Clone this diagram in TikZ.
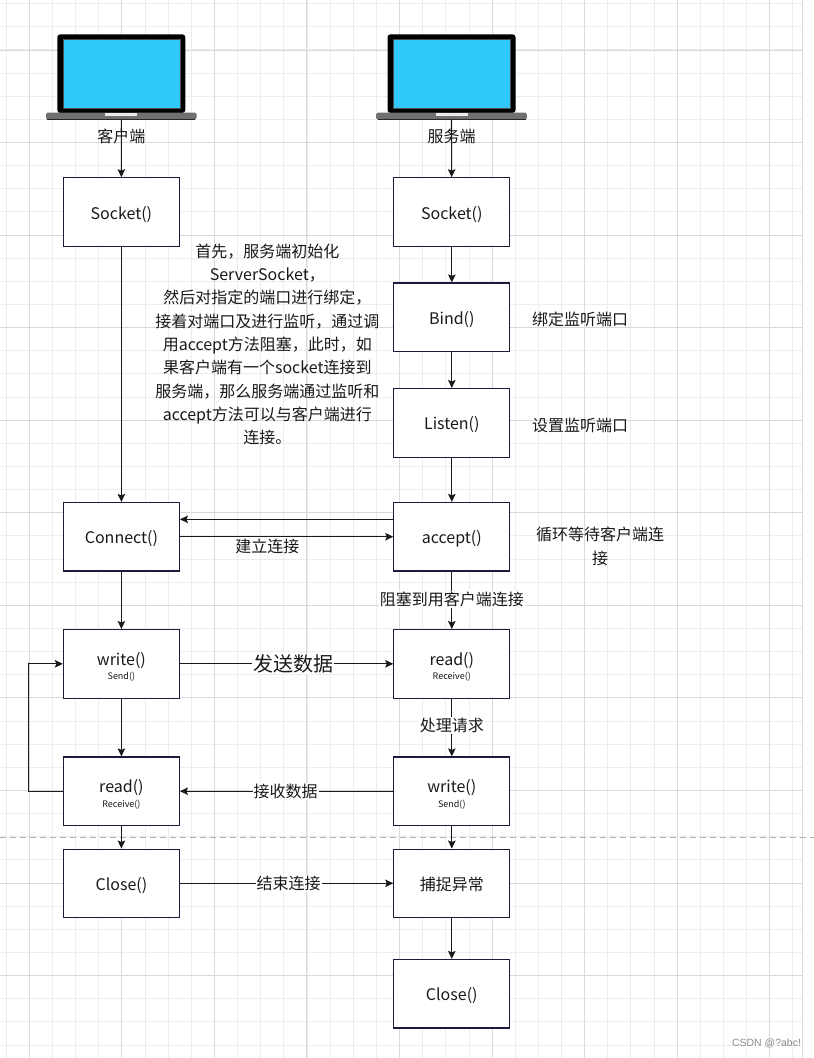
\documentclass[tikz,border=0pt]{standalone}
\usepackage{fontspec}
\setmainfont{Noto Sans CJK SC}
\newfontfamily\markfont{Liberation Sans}
\usetikzlibrary{arrows.meta, positioning}
\definecolor{scrn}{HTML}{30C8F8}
\definecolor{navy}{HTML}{1B1B3C}
\definecolor{gridmin}{HTML}{EDEDED}
\definecolor{gridmaj}{HTML}{D9D9D9}
\definecolor{basegray}{HTML}{707070}

\begin{document}
\begin{tikzpicture}[x=1pt, y=-1pt,
  box/.style={draw=navy, line width=1.1pt, fill=white, minimum width=116pt, minimum height=68.5pt, inner sep=0pt, align=center, text=black!90, font=\fontsize{16}{18}\selectfont, text height=14pt, text depth=0pt},
  twobox/.style={box, text height=33.6pt, text depth=},
  arr/.style={-{Stealth[length=8pt,width=7.5pt,inset=1.5pt]}, line width=1.1pt, draw=black!90},
  lbl/.style={fill=white, inner sep=1pt, text=black!90, font=\fontsize{16}{18}\selectfont},
  txt/.style={align=center, text=black!90, font=\fontsize{16}{23.3}\selectfont}]
\useasboundingbox (0,0) rectangle (814,1058);
\fill[white] (0,0) rectangle (814,1058);
\foreach \i in {0,...,34} \draw[gridmin, line width=1pt] ({6.2+23.14*\i},0) -- ({6.2+23.14*\i},1058);
\foreach \i in {0,...,45} \draw[gridmin, line width=1pt] (0,{3.7+23.14*\i}) -- (802.3,{3.7+23.14*\i});
\foreach \i in {0,...,8} \draw[gridmaj, line width=1pt] ({29.3+92.56*\i},0) -- ({29.3+92.56*\i},1058);
\foreach \i in {0,...,10} \draw[gridmaj, line width=1pt] (0,{50+92.56*\i}) -- (802.3,{50+92.56*\i});
\draw[gridmaj, line width=1pt] (802.3,0) -- (802.3,1058);
\draw[black!30, line width=1.2pt, dash pattern=on 6pt off 4pt] (0,837.3) -- (814,837.3);

\foreach \cx/\nm in {121.3/lapL, 451.5/lapR} {
  \fill[black, rounded corners=3pt] (\cx-64,34.3) rectangle (\cx+64,113);
  \fill[scrn, draw=black!70, line width=0.5pt] (\cx-58.5,39.5) rectangle (\cx+58.5,108.3);
  \fill[basegray, rounded corners=1.5pt] (\cx-75.3,112.7) rectangle (\cx+75.3,119.6);
  \draw[black!85, line width=1pt] (\cx-74,119.1) -- (\cx+74,119.1);
  \fill[black!8] (\cx-16,113.4) rectangle (\cx+16,115.9);
  \coordinate (\nm) at (\cx,119.6);
}

\node[box] (sockL) at (121.4,212) {Socket()};
\node[box] (sockR) at (451.8,212) {Socket()};
\node[box] (bind) at (451.8,317.2) {Bind()};
\node[box] (listen) at (451.8,422.8) {Listen()};
\node[box] (conn) at (121.4,536.7) {Connect()};
\node[box] (acc) at (451.8,536.7) {accept()};
\node[twobox] (writeL) at (121.4,663.8) {write()\\[-3.4pt]{\fontsize{9}{10}\selectfont Send()}};
\node[twobox] (readR) at (451.8,663.8) {read()\\[-3.4pt]{\fontsize{9}{10}\selectfont Receive()}};
\node[twobox] (readL) at (121.4,791.2) {read()\\[-3.4pt]{\fontsize{9}{10}\selectfont Receive()}};
\node[twobox] (writeR) at (451.8,791.2) {write()\\[-3.4pt]{\fontsize{9}{10}\selectfont Send()}};
\node[box] (closeL) at (121.4,883.3) {Close()};
\node[box] (catch) at (451.8,883.3) {捕捉异常};
\node[box] (closeR) at (451.8,993.7) {Close()};

\node[txt] (note) at (267.3,344.3) {首先，服务端初始化\\ServerSocket，\\然后对指定的端口进行绑定，\\接着对端口及进行监听，通过调\\用accept方法阻塞，此时，如\\果客户端有一个socket连接到\\服务端，那么服务端通过监听和\\accept方法可以与客户端进行\\连接。};
\node[txt] (bindtxt) at (580,319.3) {绑定监听端口};
\node[txt] (listentxt) at (580,425) {设置监听端口};
\node[txt, font=\fontsize{16}{24}\selectfont] (acctxt) at (600,546) {循环等待客户端连\\接};
\node[text=black!45, font=\markfont\fontsize{10.5}{12}\selectfont] (mark) at (766.5,1043.5) {CSDN @?abc!};

\draw[arr] (lapL) -- node[pos=0.29, txt] (clitxt) {客户端} (sockL);
\draw[arr] (lapR) -- node[pos=0.29, txt] (srvtxt) {服务端} (sockR);
\draw[arr] (sockL) -- (conn);
\draw[arr] (sockR) -- (bind);
\draw[arr] (bind) -- (listen);
\draw[arr] (listen) -- (acc);
\draw[arr] ([yshift=17.4pt]acc.west) -- ([yshift=17.4pt]conn.east);
\draw[arr] (conn) -- node[pos=0.41, yshift=-10pt, txt] (linktxt) {建立连接} (acc);
\draw[arr] (acc) -- node[pos=0.49, lbl] (blocktxt) {阻塞到用客户端连接} (readR);
\draw[arr] (conn) -- (writeL);
\draw[arr] (writeL) -- node[pos=0.53, lbl, font=\fontsize{20}{22}\selectfont] (sendtxt) {发送数据} (readR);
\draw[arr] (readR) -- node[pos=0.47, lbl] (proctxt) {处理请求} (writeR);
\draw[arr] (writeL) -- (readL);
\draw[arr] (writeR) -- node[pos=0.505, lbl] (recvtxt) {接收数据} (readL);
\draw[arr] (readL.west) -- ++(-34,0) |- (writeL.west);
\draw[arr] (readL) -- (closeL);
\draw[arr] (writeR) -- (catch);
\draw[arr] (closeL) -- node[pos=0.51, lbl] (endtxt) {结束连接} (catch);
\draw[arr] (catch) -- (closeR);
\end{tikzpicture}
\end{document}
